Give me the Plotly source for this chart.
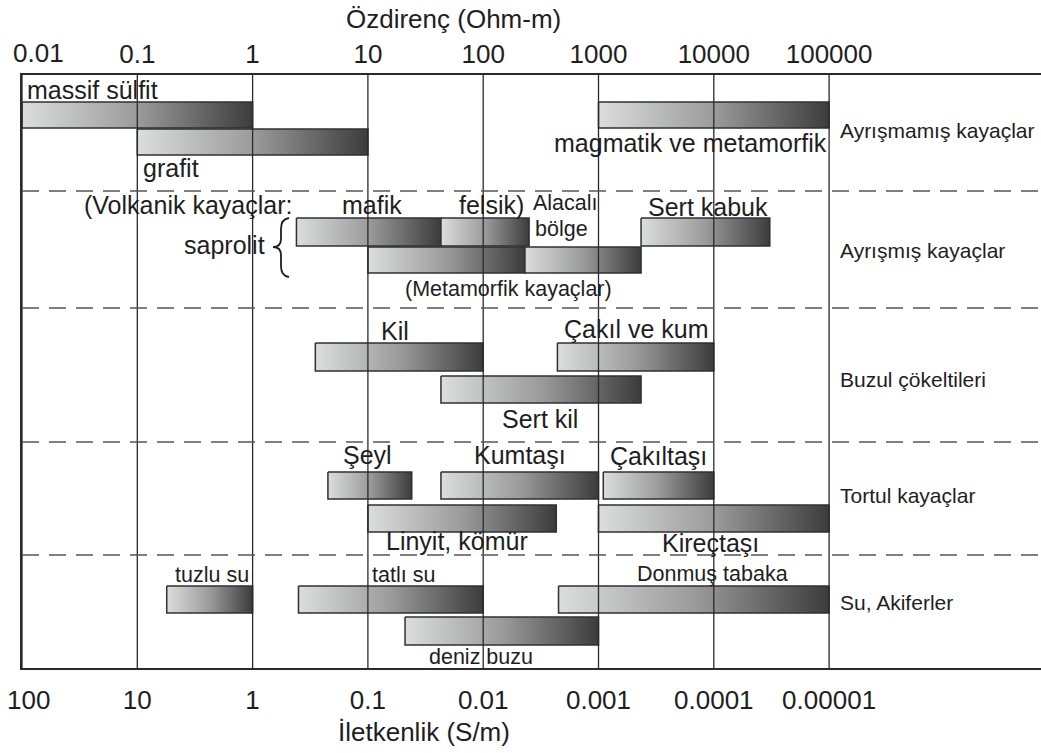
import plotly.graph_objects as go

# ---------------- data ----------------
RHO_TICKS = [0.01, 0.1, 1, 10, 100, 1000, 10000, 100000]
RHO_TICK_LABELS = ["0.01", "0.1", "1", "10", "100", "1000", "10000", "100000"]
COND_TICK_LABELS = ["100", "10", "1", "0.1", "0.01", "0.001", "0.0001", "0.00001"]

GROUPS = ["Ayrışmamış kayaçlar", "Ayrışmış kayaçlar", "Buzul çökeltileri",
          "Tortul kayaçlar", "Su, Akiferler"]

MATERIALS = ["massif sülfit", "grafit", "magmatik ve metamorfik",
             "saprolit mafik", "saprolit felsik", "saprolit metamorfik",
             "alacalı bölge", "sert kabuk",
             "kil", "çakıl ve kum", "sert kil",
             "şeyl", "kumtaşı", "çakıltaşı", "linyit, kömür", "kireçtaşı",
             "tuzlu su", "tatlı su", "donmuş tabaka", "deniz buzu"]
RHO_MIN = [0.01, 0.1, 1000,
           2.4, 43, 10,
           230, 2340,
           3.5, 440, 43,
           4.5, 43, 1100, 10, 1000,
           0.18, 2.5, 450, 21]
RHO_MAX = [1, 10, 100000,
           43, 250, 230,
           2340, 30600,
           100, 10000, 2340,
           24, 1000, 10000, 430, 100000,
           1, 100, 100000, 1000]
GROUP_IDX = [0, 0, 0,
             1, 1, 1,
             1, 1,
             2, 2, 2,
             3, 3, 3, 3, 3,
             4, 4, 4, 4]
ROW_IDX = [0, 1, 0,
           0, 0, 1,
           1, 0,
           0, 0, 1,
           0, 0, 0, 1, 1,
           0, 0, 0, 1]

# ---------------- layout constants ----------------
W, H = 1041, 753
BOX_L, BOX_T, BOX_B = 22, 75, 668
DEC = 115.3                         # pixels per decade
LOG_MIN = -2
LOG_MAX = LOG_MIN + (W - BOX_L) / DEC

# row vertical extents (pixel units on the y axis)
ROW_Y = {
    (0, 0): (102, 128), (0, 1): (129, 155),
    (1, 0): (218, 246), (1, 1): (247, 273),
    (2, 0): (343, 371), (2, 1): (376, 403),
    (3, 0): (472, 499), (3, 1): (505, 532),
    (4, 0): (586, 613), (4, 1): (617, 645),
}
SEPARATORS = [191, 308, 442, 555]
GROUP_LABEL_Y = [130, 250, 379, 495, 602]

FONT = "Liberation Sans, Arial, sans-serif"
TXT = "#1e1e1e"
GRAD = [[0, "#dcdddd"], [0.5, "#9b9b9b"], [1, "#3c3c3c"]]


def px2log(px):
    return LOG_MIN + (px - BOX_L) / DEC


def px2paper(px, py):
    return (px - BOX_L) / (W - BOX_L), (BOX_B - py) / (BOX_B - BOX_T)


fig = go.Figure()

# bars with horizontal gradient
for name, lo, hi, g, r in zip(MATERIALS, RHO_MIN, RHO_MAX, GROUP_IDX, ROW_IDX):
    y0, y1 = ROW_Y[(g, r)]
    fig.add_trace(go.Scatter(
        x=[lo, hi, hi, lo, lo], y=[y0, y0, y1, y1, y0],
        mode="lines", fill="toself",
        fillgradient=dict(type="horizontal", colorscale=GRAD),
        line=dict(color="#303030", width=1.5),
        name=name, hoverinfo="name", showlegend=False,
    ))

# decade grid lines drawn above bars
for v in RHO_TICKS:
    fig.add_trace(go.Scatter(
        x=[v, v], y=[BOX_T, BOX_B], mode="lines",
        line=dict(color="#2a2a2a", width=1.3),
        hoverinfo="skip", showlegend=False,
    ))

shapes = []
for y in SEPARATORS:
    shapes.append(dict(type="line", xref="paper", yref="y", x0=0, x1=1,
                       y0=y, y1=y, line=dict(color="#555555", width=1.3,
                                             dash="17px,10px")))

# curly brace grouping the two saprolite rows
BRACE_PX = [("M", 289, 218), ("Q", 281, 219), ("", 281, 229), ("L", 281, 239),
            ("Q", 281, 247), ("", 273, 247), ("Q", 281, 247), ("", 281, 255),
            ("L", 281, 266), ("Q", 281, 276), ("", 289, 277)]
path = ""
for cmd, bx, by in BRACE_PX:
    px_, py_ = px2paper(bx, by)
    path += (cmd + " " if cmd else "") + f"{px_:.5f},{py_:.5f} "
shapes.append(dict(type="path", xref="paper", yref="paper", path=path.strip(),
                   line=dict(color="#1e1e1e", width=1.8)))

annotations = []


def lab(text, px, py, size=25, anchor="center", family=FONT):
    annotations.append(dict(text=text, x=px2log(px), y=py, xref="x", yref="y",
                            xanchor=anchor, yanchor="middle", showarrow=False,
                            font=dict(family=family, size=size, color=TXT)))


def title(text, px, py, size=26, anchor="center"):
    xp, yp = px2paper(px, py)
    annotations.append(dict(text=text, xref="paper", yref="paper", x=xp, y=yp,
                            xanchor=anchor, yanchor="middle", showarrow=False,
                            font=dict(family=FONT, size=size, color=TXT)))


# bar labels
lab("massif sülfit", 25, 90, anchor="left")
lab("grafit", 141, 168, anchor="left")
lab("magmatik ve metamorfik", 690, 143)
lab("(Volkanik kayaçlar:", 188, 205)
lab("mafik", 372, 205)
lab("felsik)", 491, 205)
lab("Alacalı", 531, 203, size=21.5, anchor="left")
lab("bölge", 533, 229, size=21.5, anchor="left")
lab("Sert kabuk", 708, 207)
lab("saprolit", 267, 245, anchor="right")
lab("(Metamorfik kayaçlar)", 508, 289, size=21.5)
lab("Kil", 395, 331)
lab("Çakıl ve kum", 636, 329)
lab("Sert kil", 540, 419)
lab("Şeyl", 367, 455)
lab("Kumtaşı", 520, 455)
lab("Çakıltaşı", 658, 456)
lab("Linyit, kömür", 457, 541)
lab("Kireçtaşı", 710, 543)
lab("tuzlu su", 212, 575, size=21.5)
lab("tatlı su", 403, 575, size=21.5)
lab("Donmuş tabaka", 712, 574, size=21.5)
lab("deniz buzu", 481, 657, size=21.5)

# group labels on the right
for gname, gy in zip(GROUPS, GROUP_LABEL_Y):
    lab(gname, 838, gy, size=21, anchor="left")

# axis titles
title("Özdirenç (Ohm-m)", 453, 19)
title("İletkenlik (S/m)", 424, 732)

# first tick labels sit at the left border; place them fully inside the page
title(RHO_TICK_LABELS[0], 11, 53, anchor="left")
title(COND_TICK_LABELS[0], 5, 700, anchor="left")
top_text = [""] + RHO_TICK_LABELS[1:]
bot_text = [""] + COND_TICK_LABELS[1:]

axis_common = dict(type="log", range=[LOG_MIN, LOG_MAX], showgrid=False,
                   zeroline=False, showline=True, linecolor="#2a2a2a",
                   linewidth=1.5, ticks="", tickvals=RHO_TICKS,
                   ticklabeloverflow="allow",
                   tickfont=dict(family=FONT, size=26, color=TXT))

fig.update_layout(
    width=W, height=H,
    margin=dict(l=BOX_L, r=0, t=BOX_T, b=H - BOX_B, autoexpand=False),
    paper_bgcolor="white", plot_bgcolor="white",
    xaxis=dict(**axis_common, ticktext=bot_text, side="bottom",
               ticklabelstandoff=8),
    xaxis2=dict(**axis_common, ticktext=top_text, side="top",
                overlaying="x", matches="x", ticklabelstandoff=0),
    yaxis=dict(range=[BOX_B, BOX_T], showgrid=False, zeroline=False,
               showticklabels=False, ticks="", showline=True,
               linecolor="#2a2a2a", linewidth=1.5),
    shapes=shapes, annotations=annotations,
)

# invisible trace to activate the top axis
fig.add_trace(go.Scatter(x=[RHO_TICKS[0]], y=[BOX_B], xaxis="x2", mode="markers",
                         marker=dict(opacity=0), hoverinfo="skip", showlegend=False))

fig.write_html("out.html", config={"displayModeBar": False},
               post_script="document.body.style.margin='0';"
                           "document.body.style.overflow='hidden';")
